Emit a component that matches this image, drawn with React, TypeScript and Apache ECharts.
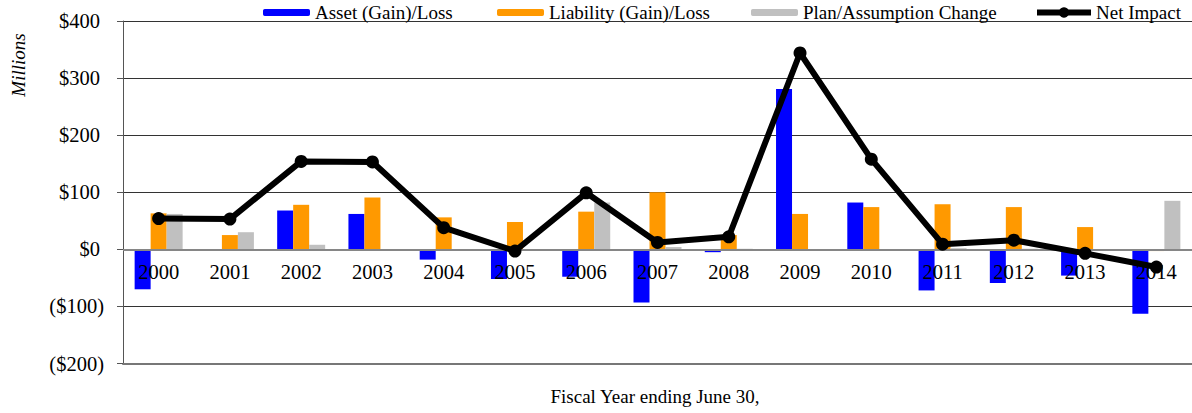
import React, { useEffect, useRef } from "react";
import * as echarts from "echarts";

const years = ["2000","2001","2002","2003","2004","2005","2006","2007","2008","2009","2010","2011","2012","2013","2014"];
const assetGainLoss = [-70, -2, 68, 62, -18, -52, -48, -93, -5, 281, 82, -72, -59, -46, -113];
const liabilityGainLoss = [63, 25, 78, 91, 56, 48, 66, 100, 25, 62, 74, 79, 74, 39, -3];
const planAssumptionChange = [62, 30, 8, 0, 0, 0, 82, 4, 1, 0, 0, 2, 1, 0, 85];
const netImpact = [54, 53, 154, 153, 38, -3, 99, 12, 22, 344, 158, 9, 16, -7, -31];

const FONT = "Liberation Serif";

export default function App() {
  const ref = useRef<HTMLDivElement>(null);
  useEffect(() => {
    if (!ref.current) return;
    const chart = echarts.init(ref.current, undefined, { renderer: "svg" });
    const mkLegend = (name: string, left: number, w: number, h: number, extra: any = {}) => ({
      show: true,
      data: [name],
      left,
      top: 3,
      padding: 0,
      itemWidth: w,
      itemHeight: h,
      itemGap: 0,
      textStyle: { fontFamily: FONT, fontSize: 19, color: "#000" },
      selectedMode: false,
      ...extra,
    });
    chart.setOption({
      animation: false,
      backgroundColor: "#fff",
      textStyle: { fontFamily: FONT },
      legend: [
        mkLegend("Asset (Gain)/Loss", 263, 47, 7),
        mkLegend("Liability (Gain)/Loss", 497, 47, 7),
        mkLegend("Plan/Assumption Change", 751, 47, 7),
        mkLegend("Net Impact", 1034, 54, 13, { lineStyle: { width: 6, color: "#000" } }),
      ],
      grid: { left: 123, right: 0, top: 21, bottom: 49.5, containLabel: false },
      xAxis: {
        type: "category",
        data: years,
        axisLine: { show: true, onZero: false, lineStyle: { color: "#777", width: 2 } },
        axisTick: { show: false },
        axisLabel: { show: false },
        splitLine: { show: false },
      },
      yAxis: {
        type: "value",
        min: -200,
        max: 400,
        interval: 100,
        axisLine: { show: true, onZero: false, lineStyle: { color: "#555", width: 1 } },
        axisTick: { show: true, length: 6, lineStyle: { color: "#555" } },
        axisLabel: {
          fontFamily: FONT,
          fontSize: 20.5,
          color: "#000",
          margin: 19,
          formatter: (v: number) => (v < 0 ? `($${-v})` : `$${v}{pad|}`),
          rich: { pad: { width: 4 } },
        },
        splitLine: { show: true, lineStyle: { color: "#333", width: 1 } },
      },
      graphic: [
        {
          type: "text",
          x: 18,
          y: 65,
          rotation: Math.PI / 2,
          style: {
            text: "Millions",
            font: `italic 19px ${FONT}`,
            fill: "#000",
            align: "center",
            verticalAlign: "middle",
          },
        },
        {
          type: "text",
          x: 655,
          y: 396,
          style: {
            text: "Fiscal Year ending June 30,",
            font: `19px ${FONT}`,
            fill: "#000",
            align: "center",
            verticalAlign: "middle",
          },
        },
      ],
      series: [
        {
          name: "Asset (Gain)/Loss",
          type: "bar",
          data: assetGainLoss,
          barWidth: 16,
          barGap: "0%",
          z: 2,
          itemStyle: { color: "#0000FF" },
          markLine: {
            silent: true,
            symbol: "none",
            label: { show: false },
            lineStyle: { color: "#868686", width: 2, type: "solid" },
            data: [{ yAxis: 0 }],
            z: 3,
          },
        },
        {
          name: "Liability (Gain)/Loss",
          type: "bar",
          data: liabilityGainLoss,
          barWidth: 16,
          barGap: "0%",
          z: 2,
          itemStyle: { color: "#FF9900" },
        },
        {
          name: "Plan/Assumption Change",
          type: "bar",
          data: planAssumptionChange,
          barWidth: 16,
          barGap: "0%",
          z: 2,
          itemStyle: { color: "#C0C0C0" },
        },
        {
          name: "Year labels",
          type: "scatter",
          data: years.map((y) => [y, 0]),
          symbolSize: 0,
          silent: true,
          z: 4,
          itemStyle: { opacity: 1 },
          label: {
            show: true,
            position: "bottom",
            distance: 12,
            formatter: (p: any) => p.value[0],
            fontFamily: FONT,
            fontSize: 20.5,
            color: "#000",
          },
        },
        {
          name: "Net Impact",
          type: "line",
          data: netImpact,
          z: 5,
          symbol: "circle",
          symbolSize: 13,
          lineStyle: { color: "#000", width: 6 },
          itemStyle: { color: "#000" },
        },
      ],
    });
    return () => chart.dispose();
  }, []);
  return <div ref={ref} style={{ width: 1192, height: 413, position: "absolute", left: 0, top: 0 }} />;
}
